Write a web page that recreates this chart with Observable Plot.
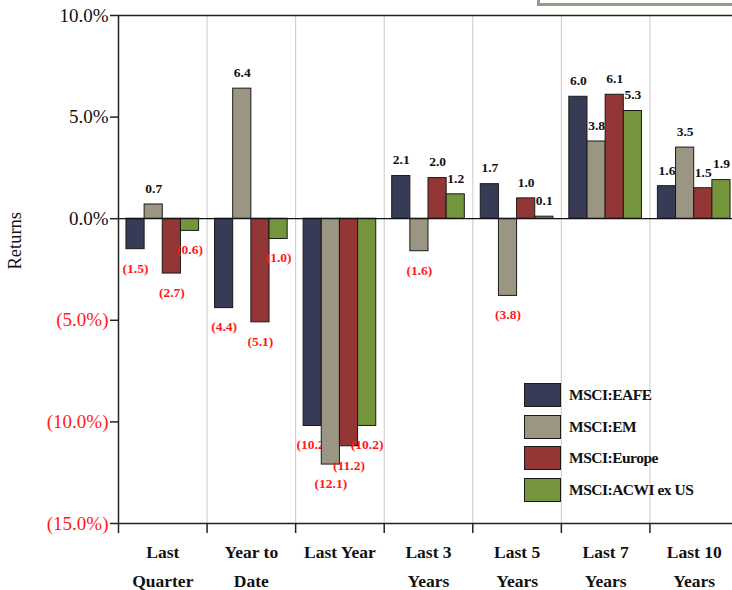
<!DOCTYPE html>
<html>
<head>
<meta charset="utf-8">
<script src="https://cdn.jsdelivr.net/npm/d3@7"></script>
<script src="https://cdn.jsdelivr.net/npm/@observablehq/plot@0.6"></script>
<style>
  html, body { margin: 0; padding: 0; background: #fff; }
  #wrap { position: relative; width: 732px; height: 590px; overflow: hidden; font-family: "Liberation Serif", "Times New Roman", serif; }
  #topbox { position: absolute; left: 537px; top: -20px; width: 210px; height: 20px; border: 3px solid #9b9885; }
  #legend { position: absolute; left: 524px; top: 383px; }
  .item { display: flex; align-items: center; height: 24px; margin-bottom: 7.5px; }
  .sw { width: 35px; height: 22px; border: 1px solid #1a1a1a; margin-right: 8px; }
  .lab { font-weight: bold; font-size: 15.5px; color: #111; letter-spacing: -0.5px; }
</style>
</head>
<body>
<div id="wrap"><div id="topbox"></div></div>
<script>
const categories = ["Last\nQuarter", "Year to\nDate", "Last Year", "Last 3\nYears", "Last 5\nYears", "Last 7\nYears", "Last 10\nYears"];
const series = ["MSCI:EAFE", "MSCI:EM", "MSCI:Europe", "MSCI:ACWI ex US"];
const colors = ["#373b55", "#9a9683", "#933636", "#74953c"];
const eafe   = [-1.5, -4.4, -10.2, 2.1, 1.7, 6.0, 1.6];
const em     = [0.7, 6.4, -12.1, -1.6, -3.8, 3.8, 3.5];
const europe = [-2.7, -5.1, -11.2, 2.0, 1.0, 6.1, 1.5];
const acwi   = [-0.6, -1.0, -10.2, 1.2, 0.1, 5.3, 1.9];
const yTicks = [-15, -10, -5, 0, 5, 10];

const values = [eafe, em, europe, acwi];
const bw = 0.205;
const pad = (1 - 4 * bw) / 2;

const font = "Liberation Serif";
const fmtVal = v => v < 0 ? `(${(-v).toFixed(1)})` : v.toFixed(1);
const fmtTick = v => v < 0 ? `(${(-v).toFixed(1)}%)` : `${v.toFixed(1)}%`;

const marks = [
  Plot.ruleX([1, 2, 3, 4, 5, 6], {stroke: "#c8c8c8", strokeWidth: 1}),
  Plot.ruleY([10], {stroke: "#222", strokeWidth: 1.5}),
];
values.forEach((vals, j) => {
  const data = vals.map((v, i) => ({i, v}));
  marks.push(
    Plot.rectY(data, {
      x1: d => d.i + pad + j * bw,
      x2: d => d.i + pad + (j + 1) * bw,
      y1: 0, y2: d => d.v,
      fill: colors[j], stroke: "#1a1a1a", strokeWidth: 1
    }),
    Plot.text(data.filter(d => d.v >= 0), {
      x: d => d.i + pad + (j + 0.5) * bw,
      y: d => d.v, dy: -16,
      text: d => fmtVal(d.v),
      fill: "#111", fontWeight: "bold", fontSize: 13.5, fontFamily: font
    }),
    Plot.text(data.filter(d => d.v < 0), {
      x: d => d.i + pad + (j + 0.5) * bw,
      y: d => d.v, dy: 19,
      text: d => fmtVal(d.v),
      fill: "#ff1a1a", fontWeight: "bold", fontSize: 13.5, fontFamily: font
    })
  );
});
marks.push(
  Plot.ruleY([0], {stroke: "#111", strokeWidth: 1.2}),
  Plot.ruleY([-15], {stroke: "#222", strokeWidth: 1.5}),
  Plot.ruleX([0], {stroke: "#222", strokeWidth: 1.5}),
  Plot.axisY({ticks: yTicks, tickSize: 8, tickPadding: 2, tickFormat: fmtTick,
    fill: d => d < 0 ? "#ff1a1a" : "#111", stroke: "#222", strokeWidth: 1.5,
    fontSize: 19, fontFamily: font, label: null}),
  Plot.axisX({ticks: [0, 1, 2, 3, 4, 5, 6, 7], tickSize: 10, tickFormat: () => "", stroke: "#222", strokeWidth: 1.5, label: null}),
  Plot.text(categories, {
    x: (d, i) => i + 0.5, frameAnchor: "bottom", dy: 13, lineAnchor: "top", lineHeight: 1.7,
    text: d => d, fontWeight: "bold", fontSize: 17.5, fontFamily: font, fill: "#111"
  }),
  Plot.text(["Returns"], {frameAnchor: "left", dx: -103, rotate: -90, text: d => d, fontSize: 18.5, fontFamily: font, fill: "#111"})
);

const chart = Plot.plot({
  width: 732, height: 590,
  marginLeft: 118, marginTop: 15, marginBottom: 67, marginRight: -6,
  x: {type: "linear", domain: [0, 7]},
  y: {domain: [-15, 10]},
  style: {fontFamily: font, background: "#fff", overflow: "hidden"},
  marks
});
const wrap = document.getElementById("wrap");
wrap.insertBefore(chart, wrap.firstChild);

const legend = document.createElement("div");
legend.id = "legend";
series.forEach((s, j) => {
  const it = document.createElement("div");
  it.className = "item";
  it.innerHTML = `<div class="sw" style="background:${colors[j]}"></div><div class="lab">${s}</div>`;
  legend.appendChild(it);
});
wrap.appendChild(legend);
</script>
</body>
</html>
